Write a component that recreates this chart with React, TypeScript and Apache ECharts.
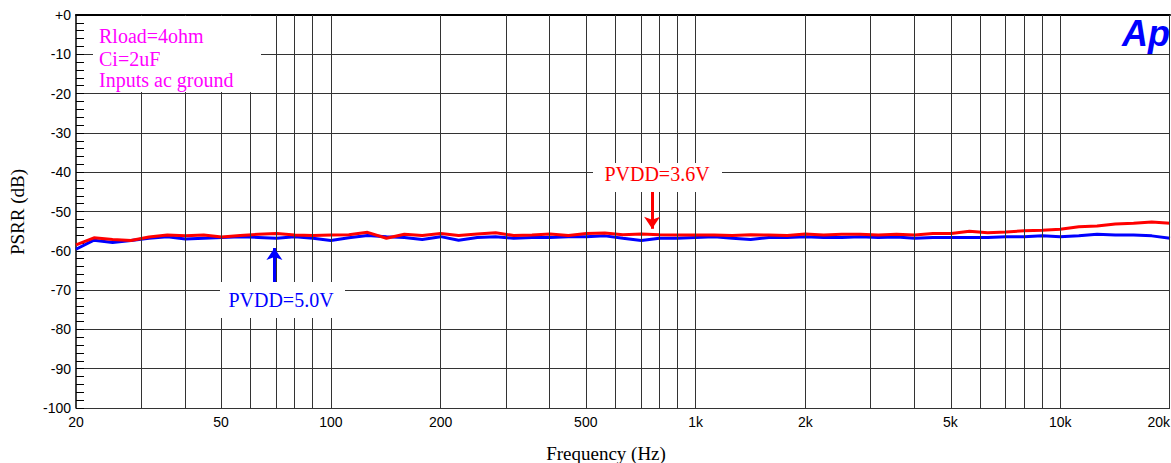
import React, { useEffect, useRef } from "react";
import * as echarts from "echarts";

const FREQS = [20, 22.4, 25.2, 28.3, 31.7, 35.6, 39.9, 44.8, 50.2, 56.4, 63.2, 71, 79.6, 89.3, 100, 112, 126, 142, 159, 178, 200, 224, 252, 283, 317, 356, 399, 448, 502, 564, 632, 710, 796, 893, 1000, 1125, 1262, 1416, 1589, 1783, 2000, 2244, 2518, 2825, 3170, 3557, 3991, 4477, 5024, 5637, 6325, 7096, 7962, 8934, 10000, 11247, 12619, 14159, 15887, 17825, 20000];

const PSRR_36V = [-58.5, -56.7, -57.1, -57.4, -56.5, -56.0, -56.2, -56.0, -56.5, -56.1,
  -55.8, -55.6, -56.0, -56.1, -56.0, -55.9, -55.3, -56.8, -55.8, -56.1,
  -55.6, -56.1, -55.7, -55.4, -56.1, -56.0, -55.7, -56.1, -55.6, -55.5,
  -55.9, -55.7, -55.9, -56.0, -56.0, -56.0, -56.1, -55.9, -56.0, -56.1,
  -55.7, -56.0, -55.8, -55.8, -56.0, -55.8, -56.0, -55.6, -55.6, -55.0,
  -55.4, -55.2, -54.9, -54.8, -54.5, -53.9, -53.7, -53.2, -53.0, -52.7, -53.0];

const PSRR_50V = [-59.6, -57.3, -57.9, -57.4, -56.8, -56.4, -57.0, -56.8, -56.6, -56.4,
  -56.6, -56.8, -56.4, -56.8, -57.4, -56.7, -56.1, -56.4, -56.6, -57.1,
  -56.4, -57.3, -56.6, -56.4, -56.8, -56.6, -56.6, -56.4, -56.4, -56.2,
  -56.8, -57.4, -56.8, -56.8, -56.6, -56.4, -56.8, -57.1, -56.6, -56.6,
  -56.4, -56.6, -56.6, -56.4, -56.6, -56.5, -56.8, -56.6, -56.6, -56.6,
  -56.6, -56.4, -56.4, -56.2, -56.4, -56.2, -55.8, -56.0, -56.0, -56.2, -56.8];

const GRID_FREQS = [30, 40, 50, 60, 70, 80, 90, 100, 200, 300, 400, 500, 600, 700, 800, 900, 1000, 2000, 3000, 4000, 5000, 6000, 7000, 8000, 9000, 10000, 20000];
const LABEL_FREQS = [20, 50, 100, 200, 500, 1000, 2000, 5000, 10000, 20000];

const NOTES = ["Rload=4ohm", "Ci=2uF", "Inputs ac ground"];
const LABEL_50V = "PVDD=5.0V";
const LABEL_36V = "PVDD=3.6V";
const ARROW_50V = { freq: 70, from: -68.7, to: -59.3 };
const ARROW_36V = { freq: 760, from: -45, to: -54.4 };

const lg = (f: number) => Math.log10(f);
const fmtFreq = (v: number) => {
  const f = Math.round(Math.pow(10, v));
  return f >= 1000 ? f / 1000 + "k" : String(f);
};

const SERIF = '"Liberation Serif", "Times New Roman", serif';
const SANS = '"Liberation Sans", Arial, sans-serif';

export default function App() {
  const ref = useRef<HTMLDivElement>(null);
  useEffect(() => {
    document.body.style.margin = "0";
    const chart = echarts.init(ref.current!, null, { renderer: "svg" });
    const option: any = {
      animation: false,
      backgroundColor: "#fff",
      grid: { left: 76, right: 1, top: 15, bottom: 55, containLabel: false, outerBoundsMode: "none" },
      xAxis: {
        type: "value",
        min: lg(20),
        max: lg(20000),
        axisLine: { show: true, lineStyle: { color: "#000", width: 2 } },
        axisTick: { show: false },
        splitLine: { show: false },
        axisLabel: {
          customValues: LABEL_FREQS.map(lg),
          formatter: (v: number) => fmtFreq(v),
          color: "#000",
          fontFamily: SANS,
          fontSize: 14,
          margin: 7,
          showMinLabel: true,
          showMaxLabel: true,
          alignMaxLabel: "right",
        },
      },
      yAxis: {
        type: "value",
        min: -100,
        max: 0,
        interval: 10,
        axisLine: { show: true, lineStyle: { color: "#000", width: 1.5 } },
        axisTick: { show: true, inside: true, length: 8, lineStyle: { color: "#000" } },
        minorTick: { show: true, splitNumber: 5, length: 8, lineStyle: { color: "#000" } },
        splitLine: { show: true, lineStyle: { color: "#333", width: 1 } },
        axisLabel: {
          formatter: (v: number) => (v === 0 ? "+0" : String(v)),
          color: "#000",
          fontFamily: SANS,
          fontSize: 14,
          margin: 5,
        },
      },
      series: [
        {
          type: "line",
          data: [],
          z: 1,
          silent: true,
          markLine: {
            silent: true,
            symbol: ["none", "none"],
            label: { show: false },
            lineStyle: { color: "#333", width: 1, type: "solid" },
            data: GRID_FREQS.map((f) => ({ xAxis: lg(f) })),
          },
        },
        {
          name: LABEL_50V,
          type: "line",
          z: 3,
          showSymbol: false,
          symbol: "none",
          lineStyle: { color: "#0000ff", width: 3 },
          itemStyle: { color: "#0000ff" },
          data: FREQS.map((f, i) => [lg(f), PSRR_50V[i]]),
          markLine: {
            silent: true,
            symbol: ["none", "arrow"],
            symbolSize: 12,
            label: { show: false },
            lineStyle: { color: "#0000ff", width: 3, type: "solid" },
            data: [[
              { coord: [lg(ARROW_50V.freq), ARROW_50V.from] },
              { coord: [lg(ARROW_50V.freq), ARROW_50V.to] },
            ]],
          },
        },
        {
          name: LABEL_36V,
          type: "line",
          z: 4,
          showSymbol: false,
          symbol: "none",
          lineStyle: { color: "#ff0000", width: 3 },
          itemStyle: { color: "#ff0000" },
          data: FREQS.map((f, i) => [lg(f), PSRR_36V[i]]),
          markLine: {
            silent: true,
            symbol: ["none", "arrow"],
            symbolSize: 12,
            label: { show: false },
            lineStyle: { color: "#ff0000", width: 3, type: "solid" },
            data: [[
              { coord: [lg(ARROW_36V.freq), ARROW_36V.from] },
              { coord: [lg(ARROW_36V.freq), ARROW_36V.to] },
            ]],
          },
        },
      ],
      graphic: [
        { type: "rect", z: 100, shape: { x: 93, y: 16, width: 168, height: 76 }, style: { fill: "#fff" } },
        ...NOTES.map((t, i) => ({
          type: "text",
          z: 101,
          x: 99,
          y: [36, 59, 80][i],
          style: { text: t, fill: "#ff00ff", font: `20px ${SERIF}`, textAlign: "left", textVerticalAlign: "middle" },
        })),
        { type: "rect", z: 100, shape: { x: 220, y: 282, width: 125, height: 36 }, style: { fill: "#fff" } },
        { type: "text", z: 101, x: 281, y: 300, style: { text: LABEL_50V, fill: "#0000ff", font: `20px ${SERIF}`, textAlign: "center", textVerticalAlign: "middle" } },
        { type: "rect", z: 100, shape: { x: 593, y: 163, width: 129, height: 29 }, style: { fill: "#fff" } },
        { type: "text", z: 101, x: 657, y: 174, style: { text: LABEL_36V, fill: "#ff0000", font: `20px ${SERIF}`, textAlign: "center", textVerticalAlign: "middle" } },
        { type: "text", z: 101, x: 1146, y: 33, style: { text: "Ap", fill: "#0000ff", font: `italic bold 36px ${SANS}`, textAlign: "center", textVerticalAlign: "middle" } },
        { type: "text", z: 101, x: 17, y: 212, rotation: Math.PI / 2, style: { text: "PSRR (dB)", fill: "#000", font: `19px ${SERIF}`, textAlign: "center", textVerticalAlign: "middle" } },
        { type: "text", z: 101, x: 606, y: 453, style: { text: "Frequency (Hz)", fill: "#000", font: `19px ${SERIF}`, textAlign: "center", textVerticalAlign: "middle" } },
      ],
    };
    chart.setOption(option);
    return () => chart.dispose();
  }, []);
  return <div ref={ref} style={{ position: "fixed", left: 0, top: 0, width: 1171, height: 463, background: "#fff" }} />;
}
